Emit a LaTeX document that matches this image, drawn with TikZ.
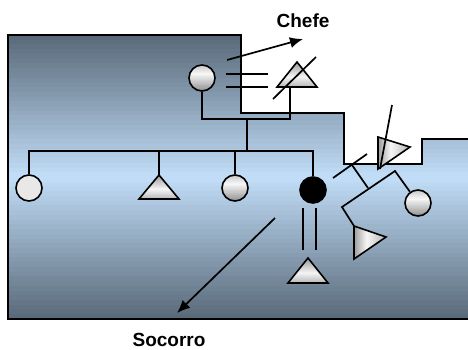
\documentclass[tikz,border=0pt]{standalone}
\usepackage{fontspec}
\setmainfont{Liberation Sans}
\usetikzlibrary{arrows.meta}
\definecolor{bgdark}{RGB}{88,104,120}
\definecolor{bglight}{RGB}{194,222,248}
\colorlet{ballT}{gray!45}
\colorlet{ballM}{gray!6}
\colorlet{ballB}{gray!85}
\colorlet{triT}{gray!80}
\colorlet{triM}{gray!8}
\colorlet{triB}{gray!55}
\colorlet{flatP}{gray!18}
% vertical three-stop gradient made of strips: ytop ybot topcolor midcolor botcolor midfraction
\newcommand\myvshade[6]{%
  \pgfmathsetmacro\mya{#1}\pgfmathsetmacro\myb{#2}%
  \pgfmathsetmacro\mym{#1+#6*(#2-#1)}%
  \pgfmathsetmacro\myda{(\mym-\mya)/30}\pgfmathsetmacro\mydb{(\myb-\mym)/30}%
  \foreach \k in {0,...,29}{\pgfmathsetmacro\pp{(\k+0.5)*100/30}%
    \fill[#4!\pp!#3] (-20,\mya+\k*\myda) rectangle (490,\mya+\k*\myda+\myda+0.6);}%
  \foreach \k in {0,...,29}{\pgfmathsetmacro\pp{(\k+0.5)*100/30}%
    \fill[#5!\pp!#4] (-20,\mym+\k*\mydb) rectangle (490,\mym+\k*\mydb+\mydb+0.6);}%
}
% horizontal three-stop gradient: xleft xright leftcolor midcolor rightcolor midfraction
\newcommand\myhshade[6]{%
  \pgfmathsetmacro\mya{#1}\pgfmathsetmacro\myb{#2}%
  \pgfmathsetmacro\mym{#1+#6*(#2-#1)}%
  \pgfmathsetmacro\myda{(\mym-\mya)/20}\pgfmathsetmacro\mydb{(\myb-\mym)/20}%
  \foreach \k in {0,...,19}{\pgfmathsetmacro\pp{(\k+0.5)*100/20}%
    \fill[#4!\pp!#3] (\mya+\k*\myda,-20) rectangle (\mya+\k*\myda+\myda+0.6,370);}%
  \foreach \k in {0,...,19}{\pgfmathsetmacro\pp{(\k+0.5)*100/20}%
    \fill[#5!\pp!#4] (\mym+\k*\mydb,-20) rectangle (\mym+\k*\mydb+\mydb+0.6,370);}%
}
\tikzset{
  ln/.style={line width=1.7pt, black},
  person/.style={circle, draw=black, line width=1.6pt, minimum size=26pt, inner sep=0pt},
  triline/.style={draw=black, line width=1.6pt, line join=miter},
  lbl/.style={font=\bfseries\fontsize{19}{22}\selectfont, inner sep=0pt},
  arr/.style={ln, -{Latex[length=13pt,width=11pt]}}
}
\begin{document}
\begin{tikzpicture}[x=1pt,y=-1pt]
\clip (0,0) rectangle (468,349);
% background
\begin{scope}
\clip (8,35) -- (241,35) -- (241,113) -- (344,113) -- (344,164) -- (422,164) -- (422,139)
  -- (475,139) -- (475,319) -- (8,319) -- cycle;
\myvshade{35}{319}{bgdark}{bglight}{bgdark}{0.5}
\end{scope}
\draw[line width=1.9pt] (8,35) -- (241,35) -- (241,113) -- (344,113) -- (344,164) -- (422,164) -- (422,139)
  -- (475,139) -- (475,319) -- (8,319) -- cycle;

% labels
\node[lbl] (chefe) at (303,21) {Chefe};
\node[lbl] (socorro) at (169,340) {Socorro};

% shaded circles
\begin{scope}\clip (202,78) circle (13pt); \myvshade{65}{91}{ballT}{ballM}{ballB}{0.35}\end{scope}
\begin{scope}\clip (235,188) circle (13pt); \myvshade{175}{201}{ballT}{ballM}{ballB}{0.35}\end{scope}
\begin{scope}\clip (418,203) circle (13pt); \myvshade{190}{216}{ballT}{ballM}{ballB}{0.35}\end{scope}

% top couple
\node[person] (C0) at (202,78) {};
\begin{scope}\clip (297,62) -- (317,87) -- (277,87) -- cycle; \myvshade{62}{87}{triT}{triM}{triB}{0.6}\end{scope}
\path[triline] (297,62) coordinate (T0a) -- (317,87) coordinate (T0r) -- (277,87) coordinate (T0l) -- cycle;
\coordinate (T0b) at (290,88);
\coordinate (ch1) at (227,60);
\coordinate (ch2) at (303,39);
\draw[arr] (ch1) -- (ch2);
\coordinate (m1a) at (226,74); \coordinate (m1b) at (268,74);
\coordinate (m2a) at (226,87); \coordinate (m2b) at (268,87);
\draw[ln] (m1a) -- (m1b);
\draw[ln] (m2a) -- (m2b);
\coordinate (s0a) at (316,57); \coordinate (s0b) at (273,99);
\draw[ln] (s0a) -- (s0b);
\draw[ln] (C0.south) |- (290,119) -- (T0b);
\coordinate (d0) at (247,119);
\coordinate (d1) at (247,150);
\draw[ln] (d0) -- (d1);

% children
\node[person, fill=flatP] (C1) at (29,188) {};
\begin{scope}\clip (159,175) -- (179,199) -- (139,199) -- cycle; \myvshade{175}{199}{triT}{triM}{triB}{0.6}\end{scope}
\path[triline] (159,175) coordinate (T1a) -- (179,199) -- (139,199) -- cycle;
\node[person] (C3) at (235,188) {};
\node[person, fill=black] (B) at (313,190) {};
\draw[ln] (C1.north) -- (29,151) -- (313,151) -- (B.north);
\draw[ln] (T1a) -- (159,151);
\draw[ln] (C3.north) -- (235,151);

% below black circle
\coordinate (b1a) at (303,208); \coordinate (b1b) at (303,250);
\coordinate (b2a) at (316,208); \coordinate (b2b) at (316,250);
\draw[ln] (b1a) -- (b1b);
\draw[ln] (b2a) -- (b2b);
\begin{scope}\clip (308,258) -- (328,283) -- (288,283) -- cycle; \myvshade{258}{283}{triT}{triM}{triB}{0.6}\end{scope}
\path[triline] (308,258) coordinate (T2a) -- (328,283) -- (288,283) -- cycle;

% socorro arrow
\coordinate (so1) at (275,218);
\coordinate (so2) at (177,313);
\draw[arr] (so1) -- (so2);

% right family
\begin{scope}\clip (378,137) -- (410,147) -- (378,169) -- cycle; \myhshade{378}{410}{triT}{triM}{triB}{0.4}\end{scope}
\path[triline] (378,137) coordinate (T3a) -- (410,147) coordinate (T3b) -- (378,169) coordinate (T3c) -- cycle;
\coordinate (s3a) at (392,105); \coordinate (s3b) at (380,169);
\draw[ln] (s3a) -- (s3b);
\coordinate (s1a) at (333,178); \coordinate (s1b) at (367,154);
\draw[ln] (s1a) -- (s1b);
\coordinate (dd0) at (352,165); \coordinate (dd1) at (368,188);
\draw[ln] (dd0) -- (dd1);
\node[person] (C4) at (418,203) {};
\begin{scope}\clip (354,226) -- (386,237) -- (354,259) -- cycle; \myhshade{354}{386}{triT}{triM}{triB}{0.4}\end{scope}
\path[triline] (354,226) coordinate (T4a) -- (386,237) -- (354,259) -- cycle;
\coordinate (sl) at (342,207); \coordinate (sr) at (395,171);
\draw[ln] (T4a) -- (sl) -- (sr) -- (C4);
\end{tikzpicture}
\end{document}
